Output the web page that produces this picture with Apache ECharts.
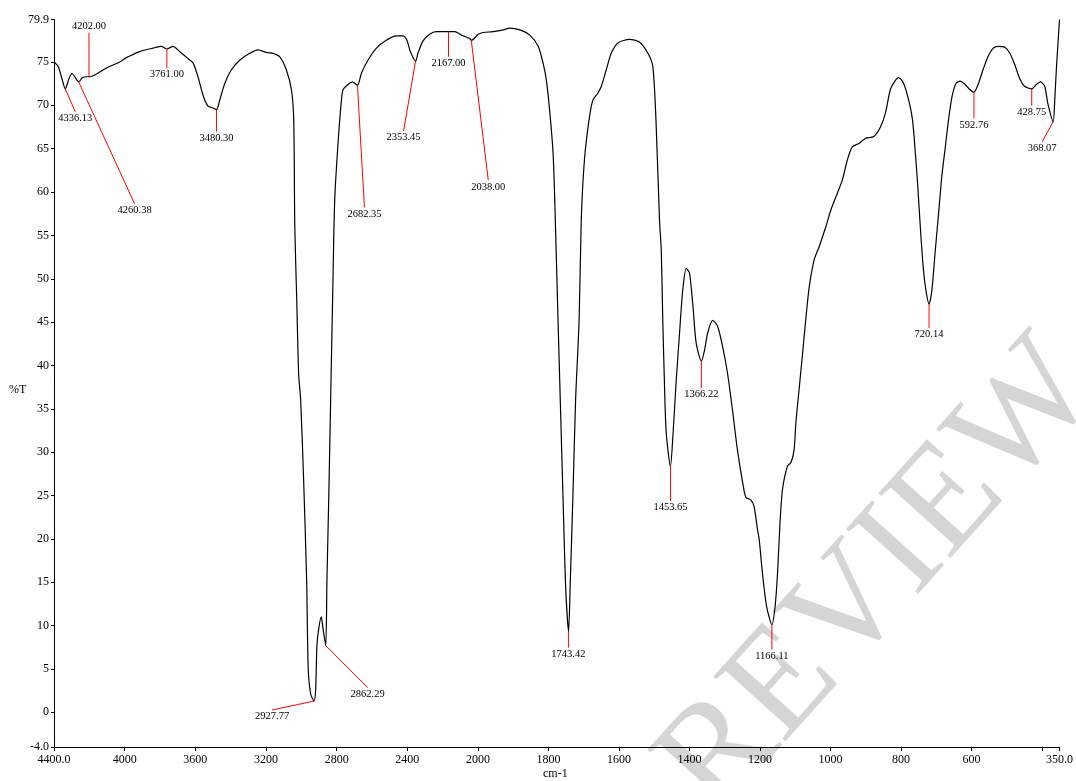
<!DOCTYPE html>
<html>
<head>
<meta charset="utf-8">
<title>IR spectrum</title>
<script src="https://cdn.jsdelivr.net/npm/echarts@6/dist/echarts.min.js"></script>
<style>
  html, body { margin: 0; padding: 0; background: #fff; }
  #chart { width: 1076px; height: 781px; }
</style>
</head>
<body>
<div id="chart"></div>
<script>
// spectrum (cm-1 / %T)
const wavenumbers = [
  4400, 4377, 4358, 4336, 4315, 4298, 4283, 4260, 4239, 4217, 4198, 4170, 4103, 4028, 3990, 3915,
  3840, 3792, 3761, 3726, 3689, 3642, 3613, 3585, 3557, 3528, 3500, 3480, 3462, 3434, 3396, 3349,
  3292, 3245, 3198, 3160, 3122, 3085, 3056, 3043, 3037, 3026, 3015, 3004, 2987, 2970, 2961, 2947,
  2928, 2919, 2912, 2902, 2887, 2877, 2862, 2855, 2845, 2834, 2823, 2811, 2791, 2773, 2764, 2736,
  2711, 2682, 2660, 2623, 2575, 2519, 2462, 2425, 2402, 2383, 2353, 2340, 2312, 2274, 2236, 2179,
  2132, 2094, 2047, 2038, 2000, 1985, 1957, 1928, 1910, 1881, 1853, 1829, 1815, 1806, 1796, 1787,
  1782, 1773, 1765, 1757, 1751, 1743, 1738, 1731, 1723, 1713, 1707, 1698, 1685, 1674, 1660, 1650,
  1636, 1622, 1603, 1570, 1542, 1518, 1504, 1495, 1485, 1480, 1476, 1471, 1466, 1454, 1447, 1438,
  1428, 1419, 1409, 1400, 1390, 1381, 1366, 1357, 1348, 1334, 1320, 1306, 1292, 1278, 1264, 1249,
  1240, 1226, 1217, 1207, 1202, 1193, 1181, 1166, 1157, 1150, 1143, 1136, 1122, 1112, 1103, 1098,
  1089, 1079, 1070, 1060, 1046, 1032, 1013, 999, 980, 966, 952, 938, 919, 900, 877, 858,
  844, 830, 815, 806, 792, 778, 767, 759, 752, 745, 736, 728, 720, 712, 703, 693,
  684, 674, 665, 655, 644, 632, 618, 604, 593, 581, 567, 553, 538, 524, 505, 491,
  477, 463, 449, 429, 416, 404, 392, 383, 368, 364, 359, 350
];
const transmittance = [
  75.0, 74.5, 73.3, 71.9, 73.1, 73.7, 73.3, 72.7, 73.2, 73.3, 73.3, 73.5, 74.3, 75.0, 75.5, 76.2,
  76.6, 76.8, 76.5, 76.8, 76.2, 75.4, 74.9, 73.3, 71.2, 69.9, 69.7, 69.5, 70.6, 72.5, 74.1, 75.2,
  76.0, 76.4, 76.1, 76.0, 75.6, 74.1, 71.8, 68.3, 56.0, 47.6, 38.9, 36.1, 26.8, 15.3, 5.0, 2.1,
  1.3, 2.6, 7.6, 9.6, 11.0, 9.6, 7.7, 15.3, 24.5, 36.1, 47.6, 59.1, 66.0, 70.6, 71.8, 72.4,
  72.7, 72.3, 73.7, 75.2, 76.6, 77.5, 78.0, 78.0, 77.5, 76.2, 75.1, 76.0, 77.4, 78.2, 78.5, 78.5,
  78.5, 78.1, 77.7, 77.5, 78.2, 78.4, 78.5, 78.7, 78.9, 78.7, 78.1, 76.8, 74.8, 72.9, 69.1, 64.5,
  58.8, 45.3, 33.8, 22.2, 14.2, 9.3, 15.3, 24.5, 36.1, 45.3, 56.8, 63.7, 68.3, 70.6, 71.4, 72.2,
  74.1, 76.0, 77.2, 77.6, 77.3, 76.0, 74.5, 68.3, 56.8, 53.3, 45.7, 38.0, 32.3, 28.4, 31.8, 38.0,
  43.8, 48.7, 51.2, 50.7, 46.8, 42.6, 40.5, 41.8, 43.8, 45.2, 44.5, 42.2, 39.1, 34.9, 30.3, 26.5,
  24.8, 24.5, 23.8, 21.1, 19.9, 16.1, 12.2, 10.1, 12.2, 16.1, 21.9, 25.7, 28.4, 28.8, 30.3, 33.4,
  37.2, 41.4, 45.3, 49.1, 52.2, 53.7, 56.0, 57.9, 59.9, 61.4, 63.7, 65.2, 65.6, 66.2, 66.4, 67.5,
  69.1, 71.8, 72.9, 73.2, 72.5, 70.6, 68.3, 64.5, 60.6, 56.0, 51.0, 48.4, 47.1, 48.7, 53.0, 57.6,
  61.8, 65.2, 68.3, 71.0, 72.5, 72.8, 72.4, 71.8, 71.5, 72.4, 74.1, 75.6, 76.6, 76.8, 76.7, 76.0,
  74.7, 73.1, 72.2, 71.9, 72.4, 72.7, 72.2, 70.2, 68.1, 70.2, 74.1, 79.9
];

// picked peaks
const peakWavenumbers = [4336.13, 4260.38, 4202.00, 3761.00, 3480.30, 2927.77, 2862.29, 2682.35, 2353.45, 2167.00,
  2038.00, 1743.42, 1453.65, 1366.22, 1166.11, 720.14, 592.76, 428.75, 368.07];
const peakTransmittance = [71.9, 72.7, 73.3, 76.5, 69.5, 1.3, 7.7, 72.3, 75.1, 78.5,
  77.5, 9.3, 28.4, 40.5, 10.1, 47.1, 71.5, 71.9, 68.1];
const peakLabels = ['4336.13', '4260.38', '4202.00', '3761.00', '3480.30', '2927.77', '2862.29', '2682.35', '2353.45', '2167.00',
  '2038.00', '1743.42', '1453.65', '1366.22', '1166.11', '720.14', '592.76', '428.75', '368.07'];

// ticks: the chart is drawn with 2x expansion below 2000 cm-1
const xTicksHigh = [4400, 4000, 3600, 3200, 2800, 2400, 2000];
const xTicksLow = [1800, 1600, 1400, 1200, 1000, 800, 600, 400, 350];
const xLabelsLow = [1800, 1600, 1400, 1200, 1000, 800, 600, 350];
const yTicks = [-4, 0, 5, 10, 15, 20, 25, 30, 35, 40, 45, 50, 55, 60, 65, 70, 75, 79.9];

// leader line ends, px relative to the peak point
const leaderOffsets = [
  [10, 23], [56, 122], [0, -44], [0, 19], [0, 22], [-42, 9], [42, 42], [7, 122], [-12, 70], [0, 25],
  [17, 140], [0, 16], [0, 35], [0, 27], [0, 25], [0, 24], [0, 26], [0, 17], [-11, 20]
];

const FONT = '"Liberation Serif", "DejaVu Serif", serif';

const points = wavenumbers.map((w, i) => [w, transmittance[i]]);
const highPart = points.filter(p => p[0] >= 2000);
const lowPart = points.filter(p => p[0] <= 2000);
const peaks = peakWavenumbers.map((w, i) => [w, peakTransmittance[i], i]);

const fmtX = v => (v === 4400 ? '4400.0' : v === 350 ? '350.0' : String(v));
const fmtY = v => (v === -4 ? '-4.0' : v === 79.9 ? '79.9' : String(v));

function renderPeak(params, api) {
  const i = api.value(2);
  const p = api.coord([api.value(0), api.value(1)]);
  const [dx, dy] = leaderOffsets[i];
  const ex = p[0] + dx;
  const ey = p[1] + dy;
  const up = dy < 0;
  return {
    type: 'group',
    children: [
      {
        type: 'line',
        shape: {x1: p[0], y1: p[1], x2: ex, y2: ey},
        style: {stroke: '#ff0000', lineWidth: 1}
      },
      {
        type: 'text',
        style: {
          text: peakLabels[i],
          x: ex,
          y: up ? ey - 1 : ey + 1,
          align: 'center',
          verticalAlign: up ? 'bottom' : 'top',
          textAlign: 'center',
          textVerticalAlign: up ? 'bottom' : 'top',
          font: '10.5px ' + FONT,
          fill: '#000'
        }
      }
    ]
  };
}

const xBase = {
  type: 'value',
  inverse: true,
  axisLine: {show: true, onZero: false, lineStyle: {color: '#000', width: 1}},
  axisTick: {show: true, length: 4, lineStyle: {color: '#000'}},
  axisLabel: {color: '#000', fontFamily: FONT, fontSize: 12, margin: 7, formatter: fmtX},
  splitLine: {show: false}
};

const yBase = {
  type: 'value',
  min: -4,
  max: 79.9,
  axisLine: {show: true, onZero: false, lineStyle: {color: '#000', width: 1}},
  axisTick: {show: true, length: 3, lineStyle: {color: '#000'}, customValues: yTicks},
  axisLabel: {color: '#000', fontFamily: FONT, fontSize: 12, margin: 5, formatter: fmtY, customValues: yTicks},
  splitLine: {show: false}
};

const chart = echarts.init(document.getElementById('chart'));
chart.setOption({
  backgroundColor: '#fff',
  animation: false,
  grid: [
    {left: 54, top: 19.5, width: 424, bottom: 34},
    {left: 478, top: 19.5, right: 15, bottom: 34}
  ],
  xAxis: [
    {
      ...xBase, gridIndex: 0, min: 2000, max: 4400,
      axisTick: {...xBase.axisTick, customValues: xTicksHigh},
      axisLabel: {...xBase.axisLabel, customValues: xTicksHigh}
    },
    {
      ...xBase, gridIndex: 1, min: 350, max: 2000,
      axisTick: {...xBase.axisTick, customValues: xTicksLow},
      axisLabel: {...xBase.axisLabel, customValues: xLabelsLow}
    }
  ],
  yAxis: [
    {...yBase, gridIndex: 0},
    {...yBase, gridIndex: 1, show: false}
  ],
  graphic: [
    {
      type: 'text',
      z: -10,
      silent: true,
      x: 880,
      y: 578,
      rotation: 48 * Math.PI / 180,
      style: {
        text: 'REVIEW',
        font: '148px ' + FONT,
        fill: 'rgba(195,195,195,0.7)',
        align: 'center',
        verticalAlign: 'middle',
        textAlign: 'center',
        textVerticalAlign: 'middle'
      }
    },
    {
      type: 'text',
      left: 9,
      top: 384,
      style: {text: '%T', font: '12px ' + FONT, fill: '#000'}
    },
    {
      type: 'text',
      left: 543,
      top: 768,
      style: {text: 'cm-1', font: '12px ' + FONT, fill: '#000'}
    }
  ],
  series: [
    {
      type: 'line', xAxisIndex: 0, yAxisIndex: 0, data: highPart,
      showSymbol: false, smooth: 0.25, lineStyle: {color: '#000', width: 1.2}, z: 3
    },
    {
      type: 'line', xAxisIndex: 1, yAxisIndex: 1, data: lowPart,
      showSymbol: false, smooth: 0.25, lineStyle: {color: '#000', width: 1.2}, z: 3
    },
    {
      type: 'custom', xAxisIndex: 0, yAxisIndex: 0, silent: true, z: 4,
      data: peaks.filter(p => p[0] >= 2000), renderItem: renderPeak
    },
    {
      type: 'custom', xAxisIndex: 1, yAxisIndex: 1, silent: true, z: 4,
      data: peaks.filter(p => p[0] < 2000), renderItem: renderPeak
    }
  ]
});
</script>
</body>
</html>
